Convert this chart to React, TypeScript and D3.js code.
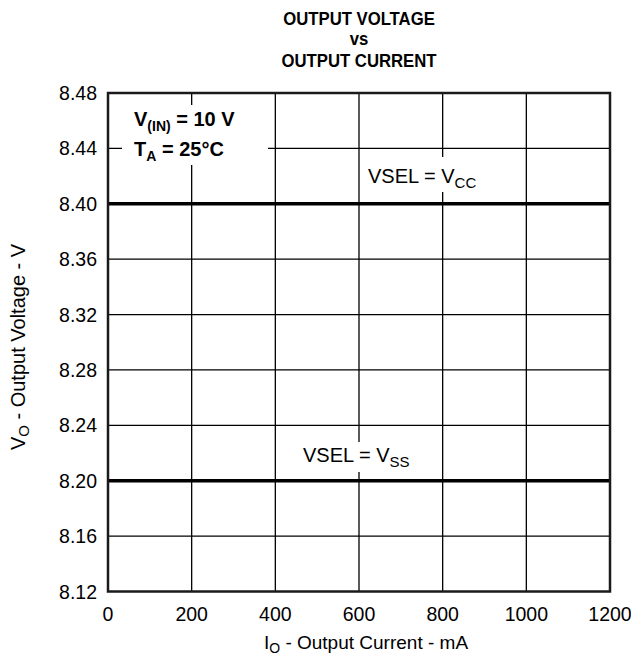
import React from 'react';
import * as d3 from 'd3';

const currentTicks = [0, 200, 400, 600, 800, 1000, 1200];
const voltageTicks = [8.12, 8.16, 8.2, 8.24, 8.28, 8.32, 8.36, 8.4, 8.44, 8.48];

// each VSEL setting gives a flat output across the whole current range
const currentPoints = [0, 1200];
const vccSeries = [8.4, 8.4];
const vssSeries = [8.2, 8.2];

const W = 631;
const H = 662;
const margin = { top: 93, right: 21, bottom: 70, left: 108 };
const font = 'Arial, "Liberation Sans", Helvetica, sans-serif';

const App: React.FC = () => {
  const x = d3.scaleLinear().domain([0, 1200]).range([margin.left, W - margin.right]);
  const y = d3.scaleLinear().domain([8.12, 8.48]).range([H - margin.bottom - 0.5, margin.top]);

  const line = d3.line<[number, number]>()
    .x(d => x(d[0]))
    .y(d => y(d[1]));

  const vcc = currentPoints.map((c, i) => [c, vccSeries[i]] as [number, number]);
  const vss = currentPoints.map((c, i) => [c, vssSeries[i]] as [number, number]);

  const [x0, x1] = x.range();
  const [y0, y1] = y.range();

  return (
    <svg width={W} height={H} style={{ position: 'absolute', left: 0, top: 0, background: '#fff' }} fontFamily={font}>
      {/* title - narrow bold lettering */}
      <g fontWeight="bold" fontSize={19} textAnchor="middle" transform="translate(359,0) scale(0.88,1)">
        <text x={0} y={25}>OUTPUT VOLTAGE</text>
        <text x={0} y={45}>vs</text>
        <text x={0} y={67}>OUTPUT CURRENT</text>
      </g>

      {/* grid */}
      <g stroke="#000" strokeWidth={1.3}>
        {currentTicks.slice(1, -1).map(t => (
          <line key={t} x1={x(t)} x2={x(t)} y1={y1} y2={y0} />
        ))}
        {voltageTicks.slice(1, -1).map(t => (
          <line key={t} x1={x0} x2={x1} y1={y(t)} y2={y(t)} />
        ))}
      </g>

      {/* white boxes behind annotations */}
      <rect x={122} y={105} width={146} height={60} fill="#fff" />
      <rect x={364} y={157} width={128} height={35} fill="#fff" />
      <rect x={298} y={442} width={122} height={30} fill="#fff" />

      {/* data lines */}
      <path d={line(vcc) ?? ''} fill="none" stroke="#000" strokeWidth={3.5} />
      <path d={line(vss) ?? ''} fill="none" stroke="#000" strokeWidth={3.5} />

      {/* frame */}
      <rect x={x0} y={y1} width={x1 - x0} height={y0 - y1} fill="none" stroke="#1a1a1a" strokeWidth={2.5} />

      {/* tick labels */}
      <g fontSize={19.5} fill="#000">
        {voltageTicks.map(t => (
          <text key={t} x={97} y={y(t) + 7} textAnchor="end">{d3.format('.2f')(t)}</text>
        ))}
        {currentTicks.map(t => (
          <text key={t} x={x(t)} y={621} textAnchor="middle">{t}</text>
        ))}
      </g>

      {/* axis titles */}
      <text x={366} y={649} fontSize={19} textAnchor="middle">
        I<tspan fontSize={14} dy={4}>O</tspan><tspan dy={-4}> - Output Current - mA</tspan>
      </text>
      <text transform="translate(25,347) rotate(-90)" fontSize={20} textAnchor="middle">
        V<tspan fontSize={15} dy={4}>O</tspan><tspan dy={-4}> - Output Voltage - V</tspan>
      </text>

      {/* conditions */}
      <g fontWeight="bold" fontSize={20}>
        <text x={134} y={126}>
          V<tspan fontSize={14} dy={5}>(IN)</tspan><tspan dy={-5}> = 10 V</tspan>
        </text>
        <text x={134} y={156}>
          T<tspan fontSize={14} dy={5}>A</tspan><tspan dy={-5}> = 25°C</tspan>
        </text>
      </g>

      {/* series labels */}
      <g fontSize={20}>
        <text x={368} y={183}>
          VSEL = V<tspan fontSize={15} dy={5}>CC</tspan>
        </text>
        <text x={303} y={462}>
          VSEL = V<tspan fontSize={15} dy={5}>SS</tspan>
        </text>
      </g>
    </svg>
  );
};

export default App;
